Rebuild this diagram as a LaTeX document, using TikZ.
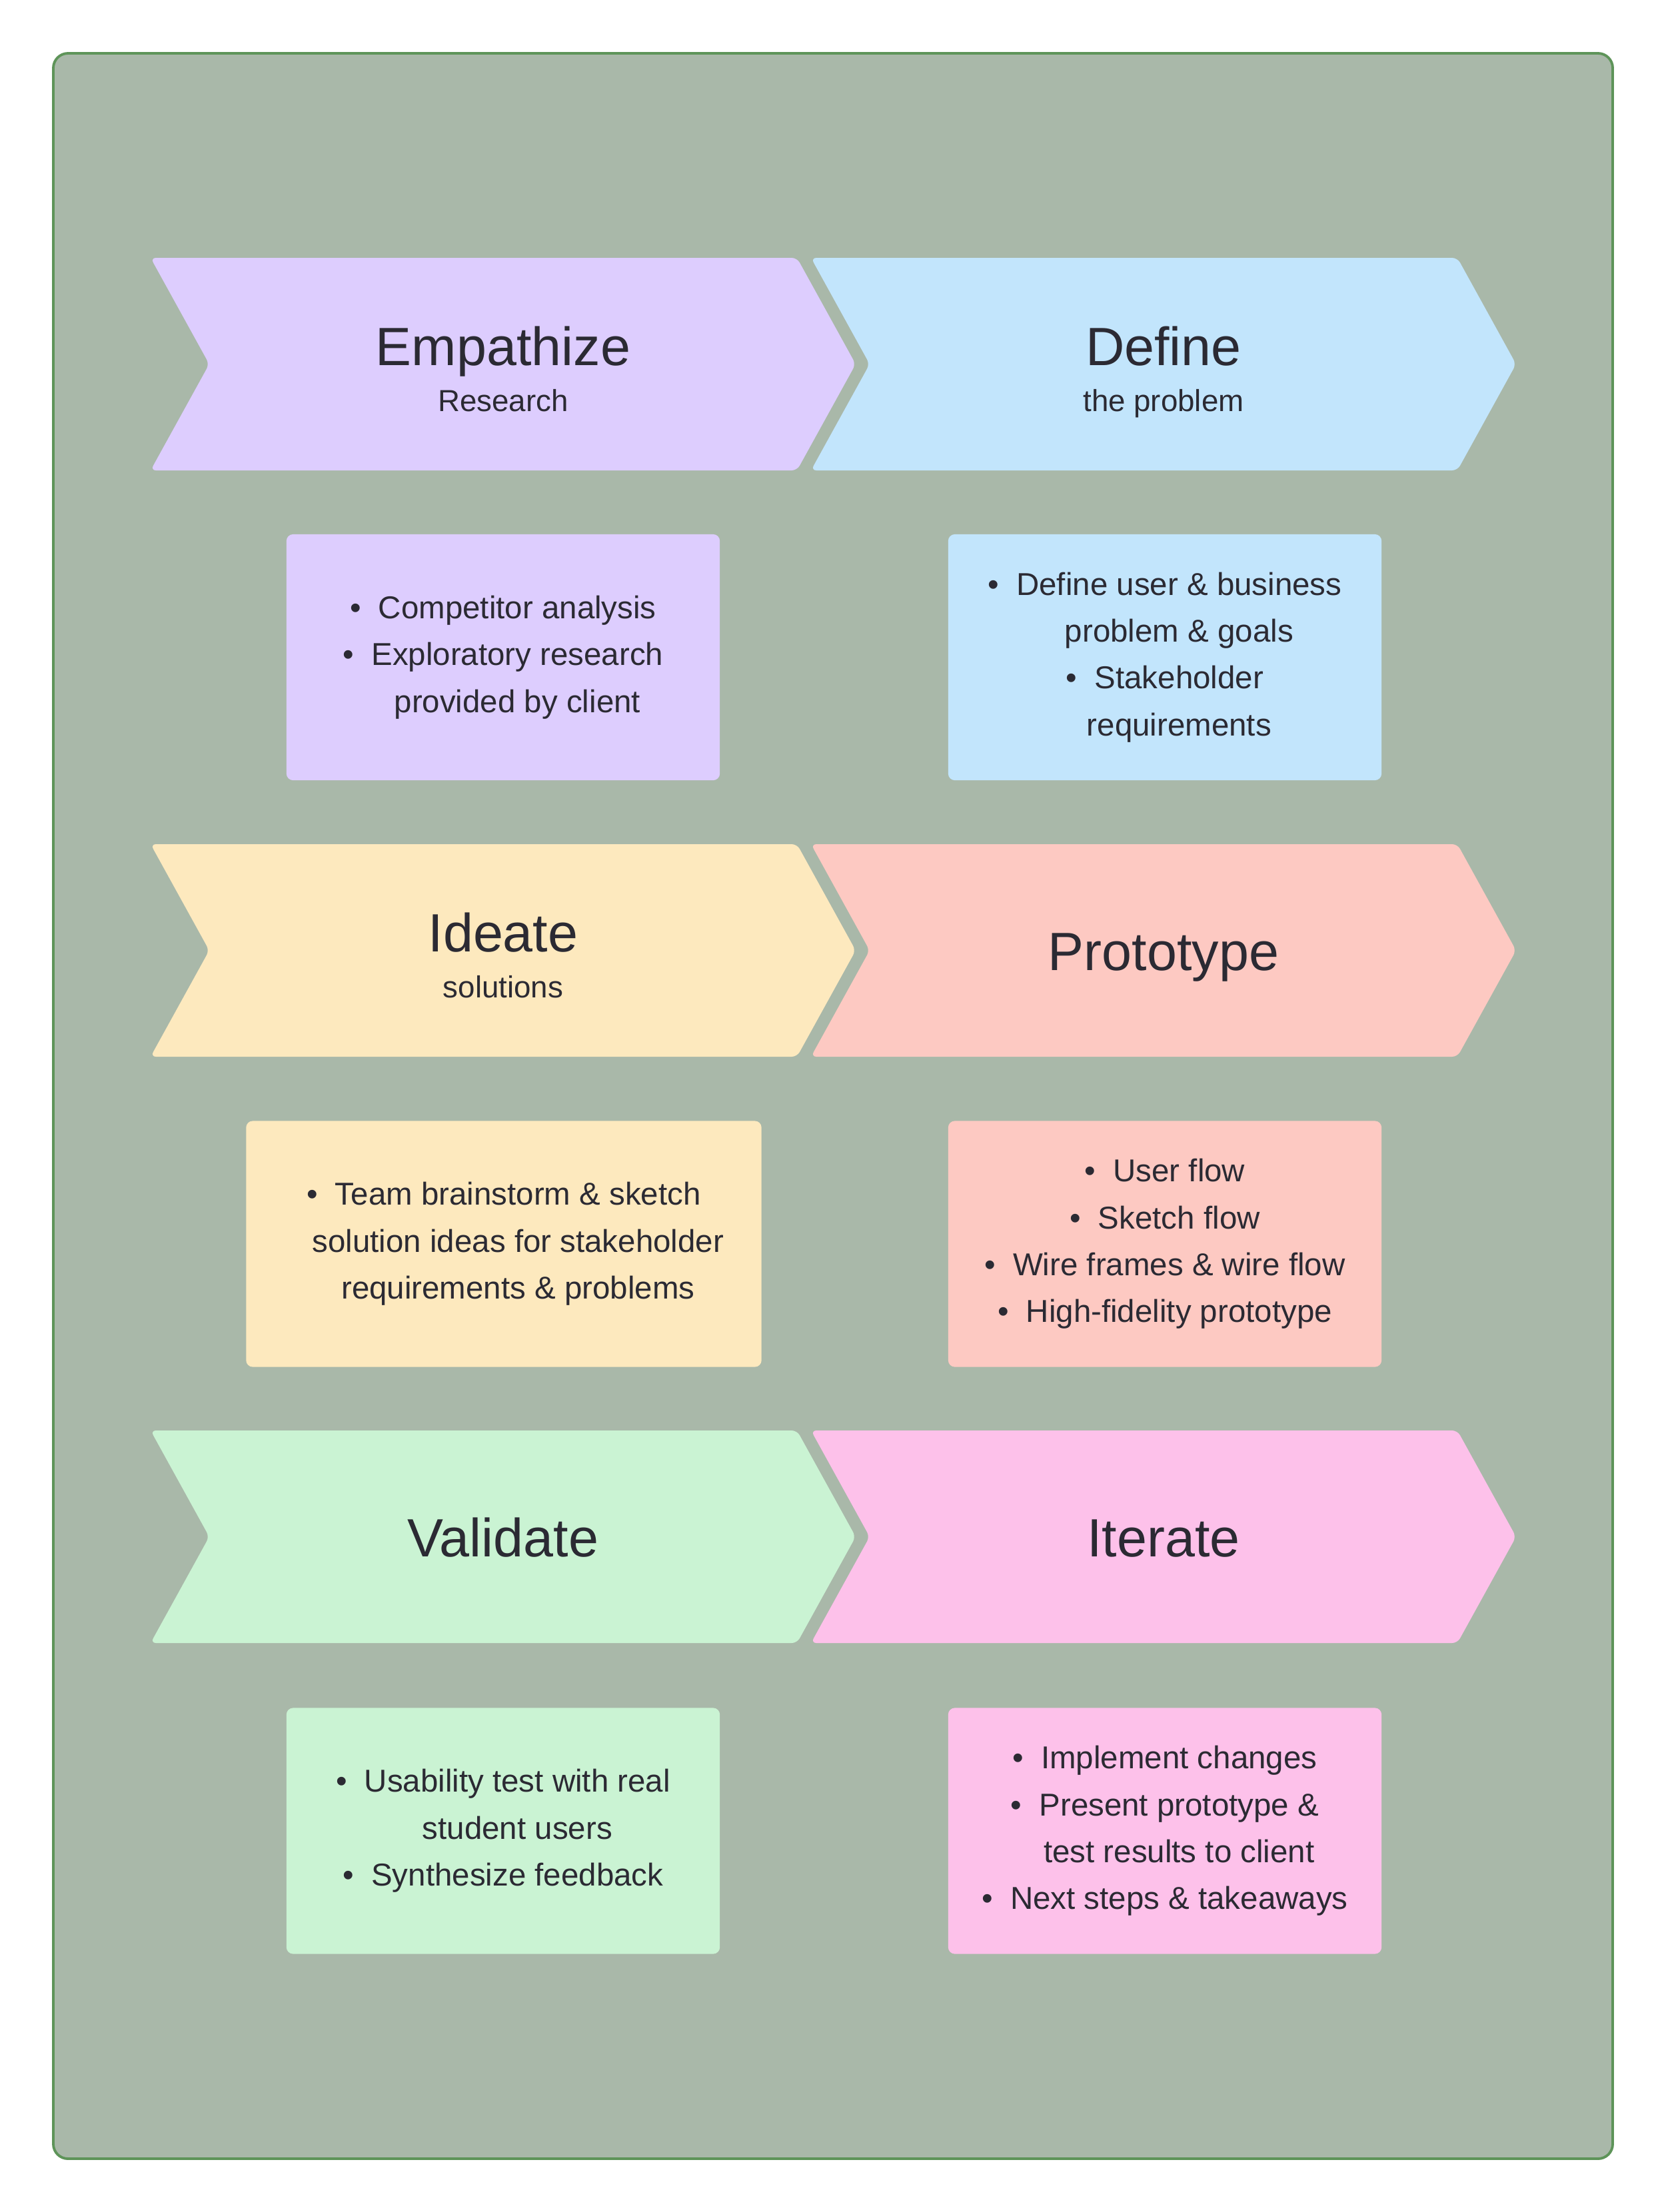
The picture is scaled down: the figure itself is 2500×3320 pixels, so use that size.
\documentclass[tikz,border=0pt]{standalone}
\usepackage{fontspec}
\setmainfont{Liberation Sans}
\definecolor{bgC}{HTML}{A9B8A9}
\definecolor{frameC}{HTML}{5E9459}
\definecolor{ink}{HTML}{2B2A33}
\definecolor{empathizeC}{HTML}{DDCDFE}
\definecolor{defineC}{HTML}{C2E5FC}
\definecolor{ideateC}{HTML}{FDE9BE}
\definecolor{prototypeC}{HTML}{FDC9C2}
\definecolor{validateC}{HTML}{CAF3D3}
\definecolor{iterateC}{HTML}{FDC1EA}
\newcommand{\itm}{\textbullet\hspace{0.55em}}
\newcommand{\cont}{\hphantom{\itm}}
\begin{document}
\begin{tikzpicture}[x=0.01cm, y=-0.01cm,
  frame/.style={fill=bgC, draw=frameC, line width=1.1pt, rounded corners=0.22cm},
  chev/.style={rounded corners=0.08cm},
  title/.style={anchor=base, text=ink, font=\fontsize{23}{28}\selectfont},
  sub/.style={anchor=base, text=ink, font=\fontsize{13}{16}\selectfont},
  note/.style={rounded corners=0.1cm, minimum height=3.69cm, align=center,
    text=ink, font=\fontsize{13.5}{20}\selectfont}]
  \useasboundingbox (0,0) rectangle (2500,3320);
  \draw[frame] (80,80) rectangle (2420,3240);
  % chevrons
  \fill[chev, empathizeC] (226,387) -- ++(970,0) -- ++(88,159.5) -- ++(-88,159.5) -- ++(-970,0) -- ++(88,-159.5) -- cycle;
  \fill[chev, defineC] (1217,387) -- ++(970,0) -- ++(88,159.5) -- ++(-88,159.5) -- ++(-970,0) -- ++(88,-159.5) -- cycle;
  \fill[chev, ideateC] (226,1267) -- ++(970,0) -- ++(88,159.5) -- ++(-88,159.5) -- ++(-970,0) -- ++(88,-159.5) -- cycle;
  \fill[chev, prototypeC] (1217,1267) -- ++(970,0) -- ++(88,159.5) -- ++(-88,159.5) -- ++(-970,0) -- ++(88,-159.5) -- cycle;
  \fill[chev, validateC] (226,2147) -- ++(970,0) -- ++(88,159.5) -- ++(-88,159.5) -- ++(-970,0) -- ++(88,-159.5) -- cycle;
  \fill[chev, iterateC] (1217,2147) -- ++(970,0) -- ++(88,159.5) -- ++(-88,159.5) -- ++(-970,0) -- ++(88,-159.5) -- cycle;
  % titles
  \node[title] (empathize) at (755,548) {Empathize};
  \node[sub] (empathizeSub) at (755,617) {Research};
  \node[title] (define) at (1746,548) {Define};
  \node[sub] (defineSub) at (1746,617) {the problem};
  \node[title] (ideate) at (755,1428) {Ideate};
  \node[sub] (ideateSub) at (755,1497) {solutions};
  \node[title] (prototype) at (1746,1456) {Prototype};
  \node[title] (validate) at (755,2336) {Validate};
  \node[title] (iterate) at (1746,2336) {Iterate};
  % notes
  \node[note, fill=empathizeC, minimum width=6.5cm] (empathizeNotes) at (755,986.5)
    {\itm Competitor analysis\\ \itm Exploratory research\\ \cont provided by client};
  \node[note, fill=defineC, minimum width=6.5cm] (defineNotes) at (1748,986.5)
    {\itm Define user \& business\\ \cont problem \& goals\\ \itm Stakeholder\\ \cont requirements};
  \node[note, fill=ideateC, minimum width=7.73cm] (ideateNotes) at (756,1867)
    {\itm Team brainstorm \& sketch\\ \cont solution ideas for stakeholder\\ \cont requirements \& problems};
  \node[note, fill=prototypeC, minimum width=6.5cm] (prototypeNotes) at (1748,1867)
    {\itm User flow\\ \itm Sketch flow\\ \itm Wire frames \& wire flow\\ \itm High-fidelity prototype};
  \node[note, fill=validateC, minimum width=6.5cm] (validateNotes) at (755,2748)
    {\itm Usability test with real\\ \cont student users\\ \itm Synthesize feedback};
  \node[note, fill=iterateC, minimum width=6.5cm] (iterateNotes) at (1748,2748)
    {\itm Implement changes\\ \itm Present prototype \&\\ \cont test results to client\\ \itm Next steps \& takeaways};
\end{tikzpicture}
\end{document}
